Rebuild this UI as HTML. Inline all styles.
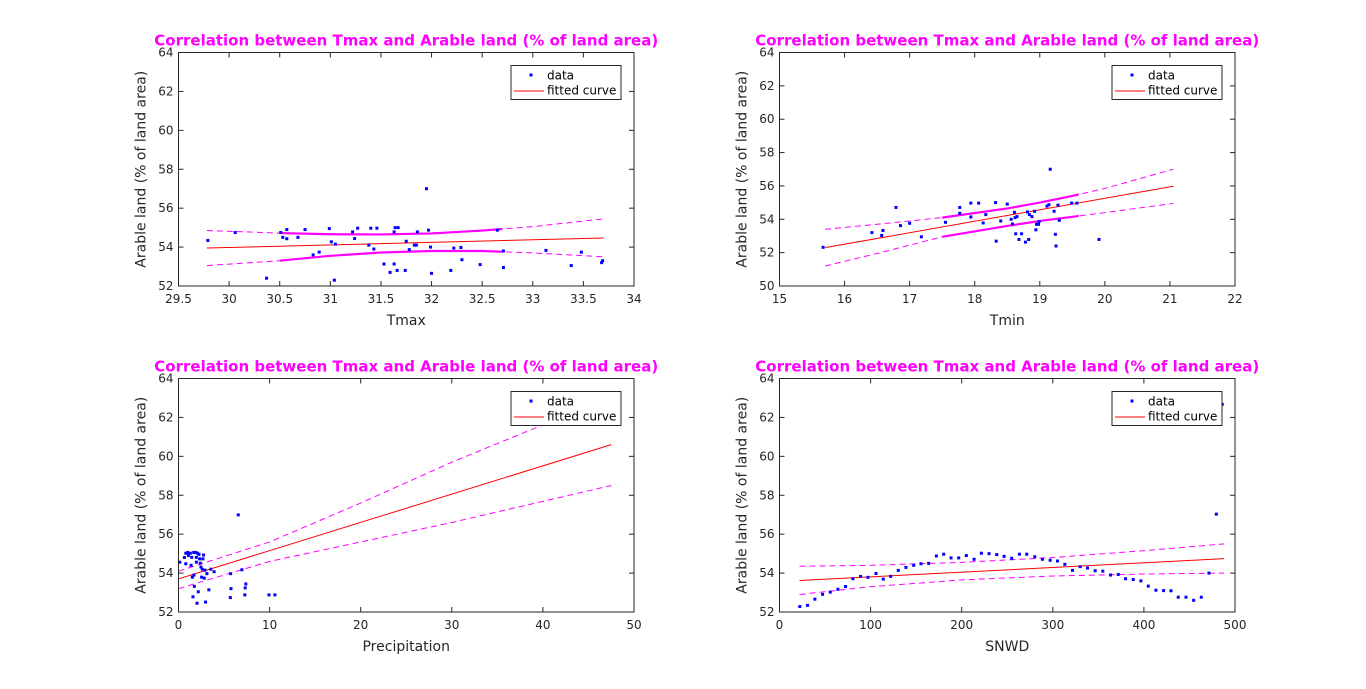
<!DOCTYPE html>
<html><head><meta charset="utf-8"><style>
body{margin:0;background:#fff;}
svg{display:block;font-family:"DejaVu Sans","Liberation Sans",sans-serif;}
</style></head><body>
<svg id="fig" width="1366" height="689"></svg>
<script>
// ---- Panel 1: Tmax ----
const p1X=[29.79,30.06,30.37,30.51,30.53,30.57,30.57,30.68,30.75,30.83,30.89,30.99,31.01,31.04,31.05,31.22,31.24,31.27,31.38,31.40,31.43,31.46,31.53,31.59,31.63,31.63,31.64,31.66,31.67,31.74,31.75,31.78,31.86,31.83,31.85,31.95,31.97,31.99,32.0,32.19,32.22,32.29,32.30,32.48,32.65,32.71,32.71,33.13,33.38,33.48,33.68,33.69];
const p1Y=[54.34,54.75,52.4,54.75,54.5,54.9,54.43,54.5,54.9,53.6,53.74,54.95,54.27,52.3,54.15,54.78,54.44,54.97,54.1,54.97,53.9,54.97,53.13,52.7,53.13,54.78,55.0,52.8,55.0,52.8,54.3,53.87,54.78,54.1,54.1,57.0,54.87,54.0,52.65,52.8,53.95,53.98,53.35,53.1,54.87,53.8,52.95,53.83,53.05,53.74,53.2,53.3];
const p1FitX=[29.78,33.7], p1FitY=[53.95,54.47];
const p1BX=[29.78,30.5,31.0,31.5,32.0,32.5,33.0,33.7];
const p1Up=[54.85,54.72,54.66,54.65,54.7,54.85,55.05,55.45];
const p1Lo=[53.05,53.3,53.55,53.72,53.8,53.8,53.7,53.5];
// ---- Panel 2: Tmin ----
const p2X=[15.67,16.42,16.57,16.59,16.79,16.86,17.0,17.18,17.55,17.77,17.77,17.94,17.94,18.06,18.13,18.17,18.32,18.33,18.4,18.5,18.56,18.58,18.61,18.62,18.63,18.65,18.68,18.72,18.78,18.81,18.83,18.84,18.88,18.92,18.94,18.95,18.98,18.99,19.11,19.14,19.16,19.22,19.24,19.25,19.28,19.3,19.49,19.57,19.91];
const p2Y=[52.32,53.2,53.03,53.33,54.71,53.62,53.76,52.95,53.82,54.36,54.71,54.97,54.14,54.97,53.78,54.28,55.0,52.69,53.9,54.91,54.0,53.72,54.42,54.1,53.13,54.16,52.79,53.13,52.63,54.44,52.79,54.28,54.16,54.48,53.37,53.7,53.7,53.86,54.79,54.87,57.0,54.48,53.1,52.4,54.85,53.94,54.97,54.97,52.79];
const p2FitX=[15.7,21.05], p2FitY=[52.3,55.98];
const p2BX=[15.7,16.5,17.5,18.5,19.0,19.5,20.0,21.05];
const p2Up=[53.4,53.7,54.1,54.65,55.0,55.4,55.85,57.0];
const p2Lo=[51.2,51.95,52.95,53.6,53.9,54.15,54.4,54.95];
// ---- Panel 3: Precipitation ----
const p3X=[0.14,0.65,0.8,0.8,1.01,1.09,1.3,1.38,1.45,1.52,1.59,1.67,1.7,1.74,1.88,1.96,1.96,2.03,2.1,2.17,2.25,2.32,2.39,2.46,2.54,2.61,2.68,2.75,2.83,2.9,2.97,3.12,3.33,3.55,3.91,5.72,5.76,5.69,6.56,6.96,7.32,7.39,7.28,9.93,10.58];
const p3Y=[54.56,54.8,55.02,54.48,55.06,54.9,55.02,54.4,54.81,53.79,52.78,55.06,53.9,53.32,55.06,54.56,54.81,52.45,55.02,53.04,54.96,54.73,54.51,54.31,53.79,54.2,54.73,54.93,53.74,54.15,52.51,53.97,53.14,54.2,54.07,53.97,53.2,52.74,56.99,54.17,53.24,53.44,52.88,52.88,52.88];
const p3FitX=[0,47.5], p3FitY=[53.7,60.6];
const p3BX=[0,10,20,30,42];
const p3UpY=[54.1,55.6,57.6,59.7,62.0];
const p3BX2=[0,10,20,30,47.5];
const p3LoY=[53.2,54.6,55.6,56.6,58.5];
// ---- Panel 4: SNWD ----
const p4X=[22.3,30.8,38.8,47.3,55.7,64.1,72.5,80.6,89.0,97.1,105.9,113.9,122.0,130.4,138.8,147.3,155.3,163.7,172.2,180.2,188.3,196.7,205.1,213.6,221.6,230.0,238.5,246.5,254.9,263.4,271.4,280.2,288.6,297.1,305.1,313.2,321.6,330.0,338.1,346.5,354.9,363.4,371.8,379.9,388.3,396.7,404.8,413.2,421.6,429.7,437.7,446.2,454.6,463.0,471.4,479.5,486.0];
const p4Y=[52.28,52.34,52.66,52.91,53.02,53.17,53.31,53.71,53.83,53.78,53.98,53.69,53.83,54.14,54.29,54.40,54.48,54.50,54.88,54.97,54.78,54.78,54.90,54.71,55.02,55.0,54.95,54.86,54.76,54.97,54.97,54.84,54.71,54.66,54.62,54.45,54.14,54.33,54.26,54.12,54.10,53.90,53.93,53.71,53.67,53.60,53.33,53.12,53.10,53.09,52.76,52.76,52.60,52.76,54.0,57.03,62.67];
const p4FitX=[22,488], p4FitY=[53.62,54.74];
const p4BX=[22,100,200,300,400,488];
const p4Up=[54.35,54.4,54.55,54.8,55.15,55.5];
const p4Lo=[52.9,53.3,53.65,53.85,53.95,54.0];

const xT1=[29.5,30,30.5,31,31.5,32,32.5,33,33.5,34];
const xT2=[15,16,17,18,19,20,21,22];
const xT3=[0,10,20,30,40,50];
const xT4=[0,100,200,300,400,500];
const yT1=[52,54,56,58,60,62,64];
const yT2=[50,52,54,56,58,60,62,64];

const NS='http://www.w3.org/2000/svg';
const svg=document.getElementById('fig');
function el(tag,attrs,parent,text){const e=document.createElementNS(NS,tag);for(const k in attrs)e.setAttribute(k,attrs[k]);if(text!==undefined)e.textContent=text;(parent||svg).appendChild(e);return e;}

function panel(id,L,R,T,B,xmin,xmax,ymin,ymax,xT,yT,xlab,X,Y,fx,fy,bx,up,bx2,lo,dense){
  const g=el('g',{});
  
  
  const sx=v=>L+(v-xmin)/(xmax-xmin)*(R-L);
  const sy=v=>B-(v-ymin)/(ymax-ymin)*(B-T);
  const clipId=id+'-clip';
  const cp=el('clipPath',{id:clipId},g);el('rect',{x:L,y:T,width:R-L,height:B-T},cp);
  const plot=el('g',{'clip-path':'url(#'+clipId+')'},g);
  const line=(xs,ys,attrs,name,par)=>{const p=el('polyline',Object.assign({points:xs.map((x,i)=>sx(x)+','+sy(ys[i])).join(' '),fill:'none'},attrs),par||plot);
    
    };
  line(bx,up,{stroke:'#ff00ff','stroke-width':1,'stroke-dasharray':'6,4'},'upper-bound');
  line(bx2,lo,{stroke:'#ff00ff','stroke-width':1,'stroke-dasharray':'6,4'},'lower-bound');
  if(dense){
    const cid=id+'-dense';
    const c2=el('clipPath',{id:cid},g);el('rect',{x:sx(dense[0]),y:T,width:sx(dense[1])-sx(dense[0]),height:B-T},c2);
    const dg=el('g',{'clip-path':'url(#'+cid+')'},plot);
    line(bx,up,{stroke:'#ff00ff','stroke-width':2.2},'upper-bound-overlap',dg);
    line(bx2,lo,{stroke:'#ff00ff','stroke-width':2.2},'lower-bound-overlap',dg);
  }
  line(fx,fy,{stroke:'#ff0000','stroke-width':1},'fitted-curve');
  for(let i=0;i<X.length;i++){
    const r=el('rect',{x:sx(X[i])-1.5,y:sy(Y[i])-1.5,width:3,height:3,fill:'#0000ff'},plot);
    
    
  }
  el('rect',{x:L,y:T,width:R-L,height:B-T,fill:'none',stroke:'#262626','stroke-width':1},g);
  const tl=5;
  xT.forEach(v=>{const x=sx(v);
    el('line',{x1:x,y1:B,x2:x,y2:B-tl,stroke:'#262626'},g);
    el('line',{x1:x,y1:T,x2:x,y2:T+tl,stroke:'#262626'},g);
    const t=el('text',{x:x,y:B+17,'text-anchor':'middle','font-size':12,fill:'#262626'},g,String(v));
    
    });
  yT.forEach(v=>{const y=sy(v);
    el('line',{x1:L,y1:y,x2:L+tl,y2:y,stroke:'#262626'},g);
    el('line',{x1:R,y1:y,x2:R-tl,y2:y,stroke:'#262626'},g);
    const t=el('text',{x:L-5,y:y+4,'text-anchor':'end','font-size':12,fill:'#262626'},g,String(v));
    
    });
  const xl=el('text',{x:(L+R)/2,y:B+39,'text-anchor':'middle','font-size':14,fill:'#262626'},g,xlab);
  
  
  const yl=el('text',{x:0,y:0,'text-anchor':'middle','font-size':14,fill:'#262626',transform:'translate('+(L-33)+','+((T+B)/2)+') rotate(-90)'},g,'Arable land (% of land area)');
  
  
  const ti=el('text',{x:(L+R)/2,y:T-7,'text-anchor':'middle','font-size':15,'font-weight':'bold',fill:'#ff00ff'},g,'Correlation between Tmax and Arable land (% of land area)');
  
  
  const lg=el('g',{},g);
  
  
  const lx=R-123,ly=T+13;
  el('rect',{x:lx,y:ly,width:110,height:34,fill:'#fff',stroke:'#262626','stroke-width':1},lg);
  el('rect',{x:lx+18.5,y:ly+8,width:3,height:3,fill:'#0000ff'},lg);
  el('line',{x1:lx+3,y1:ly+25.5,x2:lx+33,y2:ly+25.5,stroke:'#ff0000'},lg);
  const e1=el('text',{x:lx+36,y:ly+14,'font-size':12,fill:'#000'},lg,'data');
  
  
  const e2=el('text',{x:lx+36,y:ly+29,'font-size':12,fill:'#000'},lg,'fitted curve');
  
  
}
panel('panel-tmax',178.5,634,52.5,286,29.5,34,52,64,xT1,yT1,'Tmax',p1X,p1Y,p1FitX,p1FitY,p1BX,p1Up,p1BX,p1Lo,[30.5,32.7]);
panel('panel-tmin',779.5,1235,52.5,286,15,22,50,64,xT2,yT2,'Tmin',p2X,p2Y,p2FitX,p2FitY,p2BX,p2Up,p2BX,p2Lo,[17.5,19.6]);
panel('panel-precip',178.5,634,378.5,612,0,50,52,64,xT3,yT1,'Precipitation',p3X,p3Y,p3FitX,p3FitY,p3BX,p3UpY,p3BX2,p3LoY,null);
panel('panel-snwd',779.5,1235,378.5,612,0,500,52,64,xT4,yT1,'SNWD',p4X,p4Y,p4FitX,p4FitY,p4BX,p4Up,p4BX,p4Lo,null);
</script>
</body></html>
